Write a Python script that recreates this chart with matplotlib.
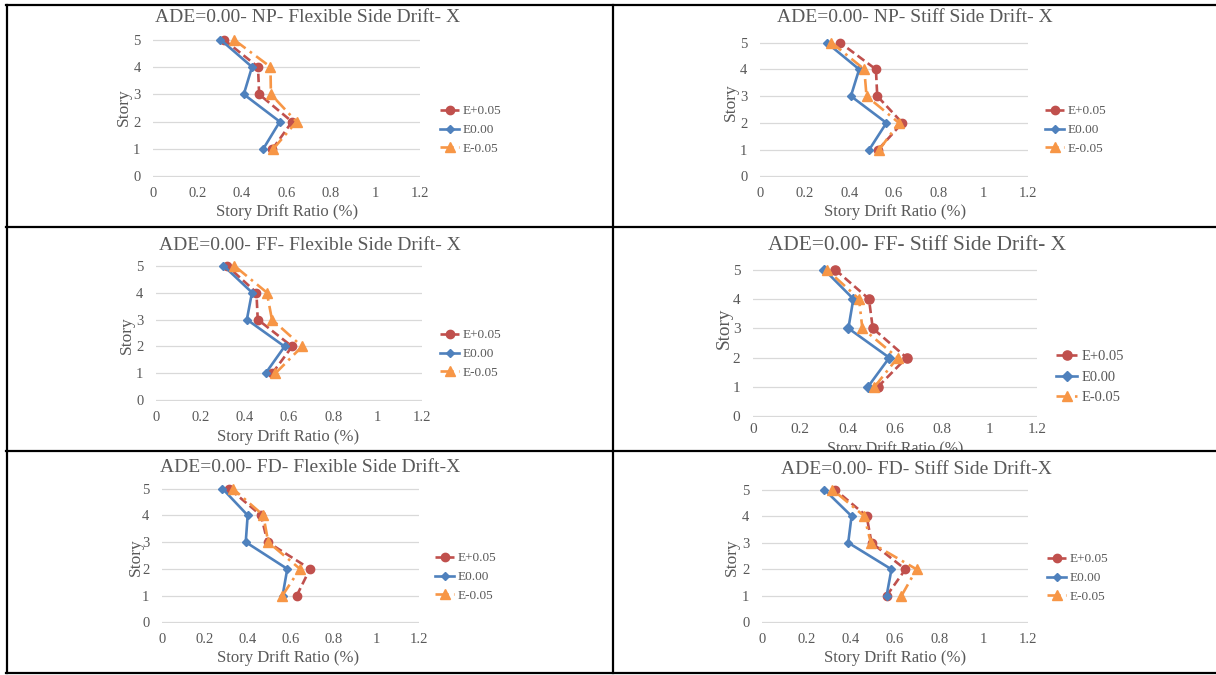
import matplotlib
matplotlib.use("Agg")
import matplotlib.pyplot as plt
from matplotlib.lines import Line2D
from matplotlib.transforms import Bbox, TransformedBbox

plt.rcParams['font.family'] = ['Liberation Serif', 'DejaVu Serif']

# ---------------- data ----------------
stories = [1, 2, 3, 4, 5]
series_labels = ["E+0.05", "E0.00", "E-0.05"]

titles = [
    "ADE=0.00- NP- Flexible Side Drift- X",
    "ADE=0.00- NP- Stiff Side Drift- X",
    "ADE=0.00- FF- Flexible Side Drift- X",
    "ADE=0.00- FF- Stiff Side Drift- X",
    "ADE=0.00- FD- Flexible Side Drift-X",
    "ADE=0.00- FD- Stiff Side Drift-X",
]
x_ticks = [0, 0.2, 0.4, 0.6, 0.8, 1, 1.2]
x_tick_labels = ["0", "0.2", "0.4", "0.6", "0.8", "1", "1.2"]
y_ticks = [0, 1, 2, 3, 4, 5]

np_flex_pos = [0.537, 0.625, 0.477, 0.472, 0.318]
np_flex_zero = [0.495, 0.570, 0.408, 0.445, 0.303]
np_flex_neg = [0.540, 0.645, 0.530, 0.528, 0.363]

np_stiff_pos = [0.529, 0.637, 0.525, 0.519, 0.358]
np_stiff_zero = [0.489, 0.566, 0.407, 0.444, 0.298]
np_stiff_neg = [0.534, 0.622, 0.477, 0.467, 0.320]

ff_flex_pos = [0.524, 0.614, 0.459, 0.453, 0.319]
ff_flex_zero = [0.494, 0.580, 0.410, 0.433, 0.304]
ff_flex_neg = [0.538, 0.659, 0.523, 0.500, 0.352]

ff_stiff_pos = [0.527, 0.649, 0.506, 0.490, 0.347]
ff_stiff_zero = [0.485, 0.576, 0.403, 0.424, 0.301]
ff_stiff_neg = [0.513, 0.611, 0.462, 0.448, 0.312]

fd_flex_pos = [0.629, 0.691, 0.493, 0.462, 0.314]
fd_flex_zero = [0.563, 0.585, 0.391, 0.400, 0.282]
fd_flex_neg = [0.562, 0.644, 0.496, 0.473, 0.330]

fd_stiff_pos = [0.562, 0.647, 0.494, 0.472, 0.329]
fd_stiff_zero = [0.562, 0.584, 0.389, 0.404, 0.281]
fd_stiff_neg = [0.629, 0.697, 0.491, 0.461, 0.318]

panel_data = [
    (np_flex_pos, np_flex_zero, np_flex_neg),
    (np_stiff_pos, np_stiff_zero, np_stiff_neg),
    (ff_flex_pos, ff_flex_zero, ff_flex_neg),
    (ff_stiff_pos, ff_stiff_zero, ff_stiff_neg),
    (fd_flex_pos, fd_flex_zero, fd_flex_neg),
    (fd_stiff_pos, fd_stiff_zero, fd_stiff_neg),
]

# ---------------- layout (pixels) ----------------
W, H = 1216, 675
fig = plt.figure(figsize=(W / 100, H / 100), dpi=100)
fig.patch.set_facecolor("white")

def fx(x):
    return x / W

def fy(y):
    return 1 - y / H

layouts = [
    dict(ax=(153, 420, 39, 177), title=(308, 17), xl=(287, 212), yl=(124, 107), leg=(440, 130),
         s=1.0, tick=10.5, tpad=7, xls=12, cell=(8, 5, 612, 227)),
    dict(ax=(760, 1028, 42, 177), title=(915, 18), xl=(895, 212), yl=(731, 102), leg=(1045, 130),
         s=1.0, tick=10.5, tpad=7, xls=12, cell=(614, 5, 1216, 227)),
    dict(ax=(156, 422, 265, 401), title=(310, 245), xl=(288, 437), yl=(127, 335), leg=(440, 354),
         s=1.0, tick=10.5, tpad=7, xls=12, cell=(8, 228, 612, 450)),
    dict(ax=(753, 1037, 269, 417), title=(917, 245), xl=(895, 449), yl=(724, 328), leg=(1056, 377),
         s=1.1, tick=11.0, tpad=4, xls=11.5, cell=(614, 228, 1216, 450)),
    dict(ax=(162, 419, 488, 623), title=(310, 467), xl=(288, 658), yl=(136, 557), leg=(435, 577),
         s=1.0, tick=10.5, tpad=7, xls=12, cell=(8, 452, 612, 672)),
    dict(ax=(762, 1028, 489, 623), title=(916, 469), xl=(895, 658), yl=(732, 557), leg=(1047, 578),
         s=1.0, tick=10.5, tpad=7, xls=12, cell=(614, 452, 1216, 672)),
]

text_color = "#595959"
grid_color = "#D9D9D9"
colors = ["#C0504D", "#4F81BD", "#F79646"]
markers = ["o", "D", "^"]
msizes = [6.0, 4.3, 6.5]
dashes = [(3.2, 1.6), None, (5, 2, 1, 2)]

for lay, title, data in zip(layouts, titles, panel_data):
    x0, x1, yt, yb = lay["ax"]
    s = lay["s"]
    ax = fig.add_axes([fx(x0), fy(yb), (x1 - x0) / W, (yb - yt) / H])
    ax.set_xlim(0, 1.2)
    ax.set_ylim(-0.02, 5.02)
    for sp in ax.spines.values():
        sp.set_visible(False)
    ax.set_xticks(x_ticks)
    ax.set_xticklabels(x_tick_labels)
    ax.set_yticks(y_ticks)
    ax.tick_params(length=0, labelsize=lay["tick"], labelcolor=text_color)
    ax.tick_params(axis="x", pad=lay["tpad"])
    ax.tick_params(axis="y", pad=9)
    ax.yaxis.grid(True, color=grid_color, linewidth=0.9)
    ax.set_axisbelow(True)

    handles = []
    for i, vals in enumerate(data):
        kw = dict(color=colors[i], marker=markers[i], markersize=msizes[i] * s,
                  linewidth=1.9, clip_on=False, zorder=3 + i, label=series_labels[i])
        ln, = ax.plot(vals, stories, **kw)
        if dashes[i] is not None:
            ln.set_dashes(dashes[i])
        handles.append(ln)

    ax.legend(handles=handles, loc="center left",
              bbox_to_anchor=(fx(lay["leg"][0]), fy(lay["leg"][1])),
              bbox_transform=fig.transFigure, frameon=False,
              fontsize=9.5 * s, labelcolor=text_color, handlelength=1.45,
              handletextpad=0.3, borderpad=0, borderaxespad=0, labelspacing=0.5)

    fig.text(fx(lay["title"][0]), fy(lay["title"][1]), title, ha="center", va="center",
             fontsize=14 * s, color=text_color)

    cx0, cy0, cx1, cy1 = lay["cell"]
    clip = TransformedBbox(Bbox([[fx(cx0), fy(cy1)], [fx(cx1), fy(cy0)]]), fig.transFigure)
    t = fig.text(fx(lay["xl"][0]), fy(lay["xl"][1]), "Story Drift Ratio (%)", ha="center",
                 va="center", fontsize=lay["xls"], color=text_color)
    t.set_clip_box(clip)
    t.set_clip_on(True)
    fig.text(fx(lay["yl"][0]), fy(lay["yl"][1]), "Story", ha="center", va="center",
             rotation=90, fontsize=12.5 * s, color=text_color)

# ---------------- table borders ----------------
border_kw = dict(color="black", linewidth=1.6, transform=fig.transFigure, zorder=10)
for y in [5, 227, 451, 673]:
    fig.add_artist(Line2D([fx(6), 1.0], [fy(y), fy(y)], **border_kw))
for x in [7, 613]:
    fig.add_artist(Line2D([fx(x), fx(x)], [fy(5), fy(673)], **border_kw))

fig.savefig("out.png", dpi=100)
